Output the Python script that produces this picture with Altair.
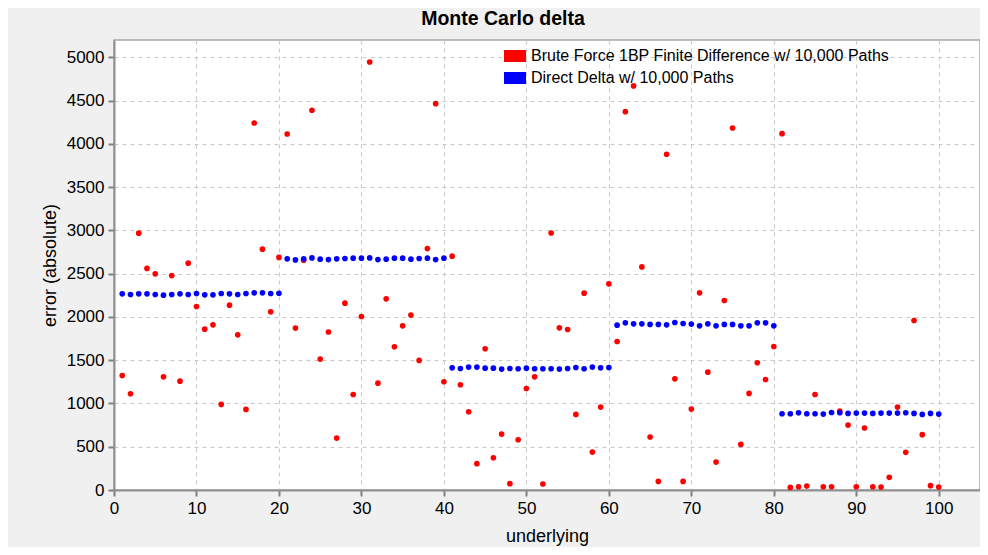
import altair as alt
import pandas as pd

underlying = list(range(1, 101))

brute_force = [
    1323, 1112, 2968, 2561, 2498, 1308, 2478, 1258, 2621, 2120,
    1859, 1909, 989, 2136, 1793, 931, 4241, 2783, 2059, 2688,
    4114, 1871, 2655, 4388, 1513, 1826, 600, 2159, 1104, 2005,
    4946, 1235, 2209, 1655, 1897, 2021, 1497, 2790, 4464, 1251,
    2702, 1216, 904, 304, 1632, 373, 646, 73, 581, 1173,
    1308, 69, 2970, 1874, 1855, 873, 2275, 438, 958, 2382,
    1716, 4372, 4669, 2578, 612, 99, 3880, 1285, 99, 935,
    2278, 1362, 323, 2190, 4183, 527, 1116, 1470, 1277, 1658,
    4118, 30, 38, 46, 1104, 38, 38, 912, 750, 38,
    716, 38, 34, 146, 958, 435, 1959, 639, 50, 34,
]

direct_delta = [
    2267, 2259, 2267, 2267, 2259, 2251, 2259, 2267, 2259, 2271,
    2255, 2255, 2271, 2267, 2259, 2271, 2278, 2278, 2271, 2274,
    2671, 2659, 2671, 2682, 2667, 2663, 2671, 2675, 2679, 2679,
    2682, 2663, 2667, 2679, 2679, 2667, 2675, 2679, 2663, 2679,
    1412, 1404, 1420, 1420, 1408, 1408, 1397, 1404, 1401, 1408,
    1401, 1401, 1401, 1397, 1404, 1416, 1401, 1420, 1412, 1416,
    1905, 1932, 1920, 1920, 1913, 1913, 1909, 1936, 1924, 1917,
    1897, 1920, 1897, 1913, 1913, 1897, 1897, 1932, 1932, 1897,
    881, 881, 893, 881, 881, 877, 896, 893, 885, 889,
    889, 885, 889, 889, 889, 893, 885, 873, 885, 877,
]

series_names = [
    "Brute Force 1BP Finite Difference w/ 10,000 Paths",
    "Direct Delta w/ 10,000 Paths",
]
series_colors = ["#ff0000", "#0000ff"]

x_ticks = list(range(0, 101, 10))
y_ticks = list(range(0, 5001, 500))

df = pd.DataFrame(
    {
        "underlying": underlying + underlying,
        "error": brute_force + direct_delta,
        "series": [series_names[0]] * len(underlying) + [series_names[1]] * len(underlying),
    }
)

FONT = "Liberation Sans"

axis_common = dict(
    titleFontSize=18,
    titleFontWeight="normal",
    titleFont=FONT,
    titleColor="#000000",
    labelFontSize=17,
    labelFont=FONT,
    labelColor="#000000",
    labelPadding=4,
    labelFlush=False,
    tickSize=6,
    tickColor="#808080",
    tickWidth=2,
    domainColor="#909090",
    domainWidth=2,
    grid=True,
    gridColor="#c8c8c8",
    gridDash=[4, 4],
    gridWidth=1,
    format="d",
)

chart = (
    alt.Chart(df)
    .mark_circle(size=32, opacity=1, strokeWidth=0)
    .encode(
        x=alt.X(
            "underlying:Q",
            scale=alt.Scale(domain=[0, 105], nice=False, zero=False),
            axis=alt.Axis(values=x_ticks, title="underlying", titlePadding=11, **axis_common),
        ),
        y=alt.Y(
            "error:Q",
            scale=alt.Scale(domain=[0, 5200], nice=False),
            axis=alt.Axis(values=y_ticks, title="error (absolute)", titlePadding=7, **axis_common),
        ),
        color=alt.Color(
            "series:N",
            sort=series_names,
            scale=alt.Scale(domain=series_names, range=series_colors),
            legend=alt.Legend(
                title=None,
                orient="none",
                legendX=390,
                legendY=5,
                symbolType="M-1,-0.545L1,-0.545L1,0.545L-1,0.545Z",
                symbolSize=484,
                symbolStrokeWidth=0,
                symbolOpacity=1,
                labelFontSize=16,
                labelFont=FONT,
                labelColor="#000000",
                labelOffset=5,
                labelLimit=0,
                rowPadding=3,
                padding=0,
            ),
        ),
    )
    .properties(
        width=866,
        height=450,
        autosize=alt.AutoSizeParams(type="none"),
        padding={"left": 106, "top": 32, "right": 0, "bottom": 57},
        background="#f0f0f0",
        title=alt.TitleParams(
            "Monte Carlo delta",
            fontSize=19.5,
            fontWeight="bold",
            font=FONT,
            color="#000000",
            anchor="middle",
            dx=-44,
            offset=11,
        ),
    )
    .configure_view(fill="#ffffff", stroke="#a8a8a8", strokeWidth=1.5)
)

chart.save("out.html", embed_options={"renderer": "svg", "actions": False})
